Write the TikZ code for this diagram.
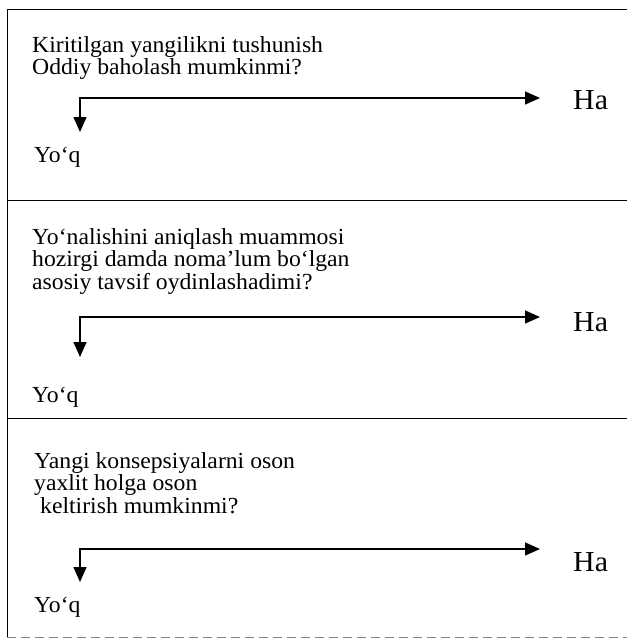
\documentclass[tikz,border=0pt]{standalone}
\usepackage{fontspec}
\setmainfont{Liberation Serif}[FakeStretch=1.03]
\usetikzlibrary{arrows.meta, positioning}

\begin{document}
\begin{tikzpicture}[x=1pt, y=-1pt,
    savol/.style={anchor=north west, align=left, inner sep=0pt, font=\fontsize{23}{22.5}\selectfont},
    javob/.style={anchor=base west, inner sep=0pt, font=\fontsize{23}{24}\selectfont},
    hanode/.style={anchor=west, inner sep=0pt, font=\fontsize{29}{30}\selectfont},
    strelka/.style={line width=1.5pt, {Triangle[length=15pt, width=13pt]}-{Triangle[length=15pt, width=13pt]}},
    ramka/.style={line width=1pt}]
  \useasboundingbox (0,0) rectangle (627,640);

  % ramka
  \draw[ramka] (627,9) -- (7,9) -- (7,637);
  \foreach \y in {200,418}
    \draw[ramka] (7,\y) -- (627,\y);
  \draw[ramka, gray, dash pattern=on 9pt off 5pt] (7,637) -- (627,637);

  % 1-savol
  \node[savol] (q1) at (32,36) {Kiritilgan yangilikni tushunish\\Oddiy baholash mumkinmi?};
  \coordinate (b1) at (80,98);
  \coordinate (t1) at (80,132);
  \node[hanode] (ha1) at (573,100) {Ha};
  \node[javob] (yoq1) at (34,162) {Yo‘q};
  \draw[strelka, shorten >=33pt] (t1) -- (b1) -- (b1 -| ha1.west);

  % 2-savol
  \node[savol] (q2) at (32,228) {Yo‘nalishini aniqlash muammosi\\hozirgi damda noma’lum bo‘lgan\\asosiy tavsif oydinlashadimi?};
  \coordinate (b2) at (80,317);
  \coordinate (t2) at (80,357);
  \node[hanode] (ha2) at (573,322) {Ha};
  \node[javob] (yoq2) at (32,402) {Yo‘q};
  \draw[strelka, shorten >=33pt] (t2) -- (b2) -- (b2 -| ha2.west);

  % 3-savol
  \node[savol] (q3) at (34,452) {Yangi konsepsiyalarni oson\\yaxlit holga oson\\\hspace*{6pt}keltirish mumkinmi?};
  \coordinate (b3) at (80,549);
  \coordinate (t3) at (80,582);
  \node[hanode] (ha3) at (573,562) {Ha};
  \node[javob] (yoq3) at (34,612) {Yo‘q};
  \draw[strelka, shorten >=33pt] (t3) -- (b3) -- (b3 -| ha3.west);
\end{tikzpicture}
\end{document}
